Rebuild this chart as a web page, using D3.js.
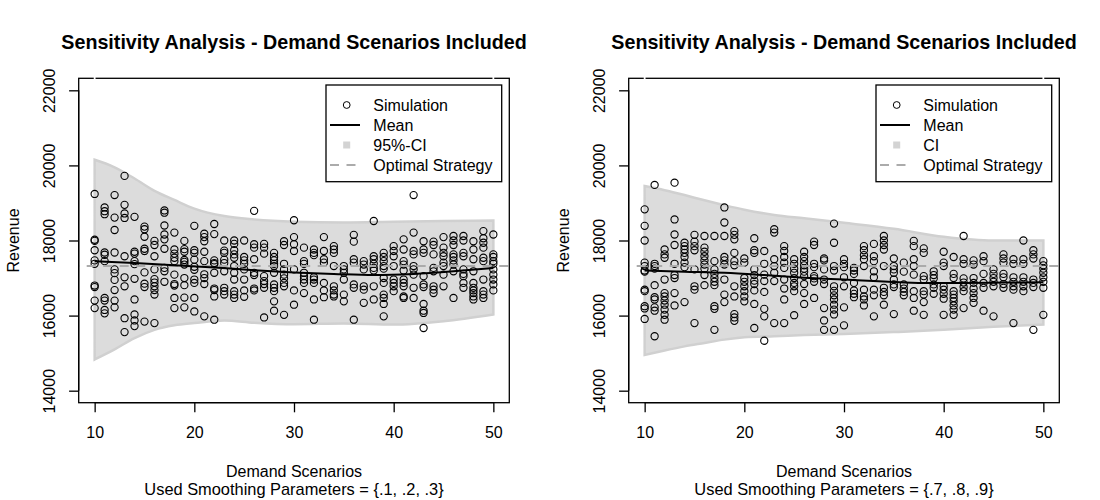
<!DOCTYPE html>
<html>
<head>
<meta charset="utf-8">
<script src="https://cdn.jsdelivr.net/npm/d3@7"></script>
<style>
    body { margin: 0; background: #fff; }
    text { font-family: "Liberation Sans", Arial, sans-serif; fill: #000; }
</style>
</head>
<body>
<div id="chart"></div>
<script>
// x values of the demand scenarios (one column of simulations each)
const scenarios = [10, 11, 12, 13, 14, 15, 16, 17, 18, 19, 20, 21, 22, 23, 24, 25, 26, 27, 28, 29,
    30, 31, 32, 33, 34, 35, 36, 37, 38, 39, 40, 41, 42, 43, 44, 45, 46, 47, 48, 49, 50];

const xTicks = [10, 20, 30, 40, 50];
const yTicks = [14000, 16000, 18000, 20000, 22000];

// simulated revenue per scenario, smoothing parameters {.1, .2, .3}
const simLeft = [
    [19240, 18020, 17990, 17740, 17470, 17380, 16800, 16760, 16400, 16200],
    [18880, 18780, 18700, 17680, 17620, 17450, 16470, 16400, 16150, 16060],
    [19210, 18610, 18280, 17680, 17230, 17130, 16950, 16680, 16400, 16220],
    [19720, 18950, 18720, 18600, 17580, 17020, 16780, 15930, 15560],
    [18630, 17700, 17650, 17450, 17370, 16980, 16430, 16030, 15870, 15720],
    [18370, 18300, 18100, 17780, 17720, 17150, 16850, 16760, 15840],
    [17990, 17880, 17580, 17230, 16970, 16880, 16780, 16680, 16560, 15800],
    [18800, 18740, 18400, 18160, 18030, 17780, 17270, 17180, 16900],
    [18210, 17760, 17650, 17540, 17450, 17090, 16840, 16800, 16470, 16200],
    [17990, 17770, 17700, 17480, 17430, 17360, 17000, 16810, 16480, 16220],
    [18390, 17740, 17670, 17490, 17300, 17220, 16960, 16870, 16470, 16110],
    [18180, 18090, 17980, 17700, 17450, 17100, 17000, 16840, 15980],
    [18440, 18170, 17470, 17400, 17370, 17140, 16720, 16680, 16510, 15890],
    [18000, 17730, 17670, 17490, 17400, 17180, 16740, 16650, 16560],
    [18000, 17910, 17740, 17630, 17540, 17320, 17140, 16960, 16650, 16560, 16470],
    [18000, 17560, 17470, 17380, 17230, 16960, 16670, 16500],
    [18790, 17900, 17810, 17500, 17140, 17080, 16720, 16670],
    [17910, 17810, 17650, 17050, 16920, 16840, 16740, 15950],
    [17670, 17560, 17470, 17380, 17320, 17140, 16830, 16740, 16650, 16380, 16130],
    [17980, 17880, 17380, 17230, 17090, 16990, 16870, 16780, 16020],
    [18540, 18090, 17900, 17720, 17230, 16670, 16290],
    [17810, 17450, 17380, 17140, 17050, 16960, 16870, 16600],
    [17760, 17670, 17610, 17020, 16960, 16870, 16430, 15890],
    [18090, 17720, 17500, 17410, 16870, 16670, 16490],
    [17850, 17760, 17670, 17320, 16780, 16670, 16560, 16510],
    [17320, 17230, 17140, 16960, 16560, 16380],
    [18150, 17970, 17500, 17410, 16830, 16740, 15890],
    [17450, 17360, 17230, 16780, 16690, 16340],
    [18520, 17580, 17500, 17380, 17270, 17200, 16780, 16430],
    [17670, 17560, 17450, 17320, 17250, 17000, 16870, 16560, 16470, 16310, 15980],
    [17850, 17720, 17580, 17320, 16960, 16870, 16780, 16650],
    [18030, 17760, 17450, 17360, 17200, 16960, 16870, 16780, 16510, 16470],
    [19210, 18210, 17720, 17630, 17320, 17230, 17090, 16740, 16470],
    [17980, 17760, 17670, 17050, 16830, 16760, 16310, 16130, 16070, 15670],
    [17970, 17880, 17630, 17270, 17180, 16780, 16690, 16600],
    [18090, 17810, 17670, 17580, 17410, 17320, 17090, 16780],
    [18120, 18000, 17880, 17630, 17560, 17470, 17360, 17180, 16470],
    [18120, 18000, 17670, 17580, 17230, 17110, 17050, 16870, 16740],
    [17980, 17760, 17500, 17180, 16870, 16740, 16670, 16600, 16510, 16430],
    [18250, 18060, 17940, 17810, 17540, 17450, 16960, 16650, 16560, 16470],
    [18160, 17630, 17560, 17450, 17380, 17230, 17090, 16960, 16830, 16670]
];

// simulated revenue per scenario, smoothing parameters {.7, .8, .9}
const simRight = [
    [18830, 18390, 18000, 17410, 17320, 17200, 17170, 16690, 16650, 16250, 16190, 15910],
    [19480, 17380, 17320, 17250, 16810, 16490, 16430, 16220, 16130, 15450],
    [17760, 17630, 17540, 16960, 16600, 16510, 16400, 16290, 16160, 16020, 15890],
    [19540, 18560, 18160, 17880, 17380, 17080, 17000, 16600, 16270],
    [17940, 17850, 17760, 17670, 17560, 17410, 17290, 16360],
    [18150, 17970, 17850, 17740, 17230, 16780, 16690, 15800],
    [18120, 17810, 17700, 17580, 17470, 17360, 17250, 17080, 16810],
    [18120, 17450, 17230, 17110, 17000, 16900, 16810, 16250, 16180, 15620],
    [18880, 18480, 18120, 17560, 17470, 17360, 16960, 16560, 16360],
    [18250, 18150, 18030, 17670, 17450, 17340, 16780, 16510, 16040, 15950, 15860],
    [17520, 17410, 17000, 16900, 16780, 16650, 16510, 16380],
    [18060, 17740, 17670, 17230, 17080, 16930, 16840, 16670, 16310, 15670],
    [17720, 17380, 17090, 16920, 16630, 16180, 15980, 15330],
    [18300, 18210, 17500, 17320, 17140, 16920, 15800],
    [17850, 17720, 17560, 17410, 17270, 16960, 16720, 16430, 15800],
    [17500, 17380, 17250, 17140, 17000, 16870, 16780, 16650, 16010],
    [17700, 17560, 17450, 17340, 17250, 17170, 17050, 16840, 16600, 16310],
    [17970, 17880, 17380, 17290, 17050, 16990, 16900, 16470],
    [17520, 17470, 17230, 16960, 16840, 16200, 15870, 15620],
    [18450, 17940, 17320, 17200, 16780, 16660, 16540, 16430, 16290, 16160, 16030, 15620],
    [17500, 17380, 17290, 17020, 16780, 16220, 15740],
    [17270, 17200, 17110, 16870, 16670, 16580, 16490],
    [17850, 17740, 17610, 17500, 17320, 16690, 16510, 16430, 16270],
    [17910, 17580, 17450, 17180, 17020, 16690, 16540, 15980],
    [18120, 18000, 17880, 17760, 17320, 16740, 16630, 16540, 16290],
    [17520, 17320, 17230, 17140, 16960, 16830, 16760, 16040],
    [17410, 17170, 16830, 16720, 16630, 16540],
    [17990, 17850, 17500, 17320, 17090, 16650, 16470, 16130],
    [17790, 17670, 17050, 16960, 16650, 16560, 16360, 16020],
    [17180, 17080, 16990, 16830, 16740, 16580],
    [17700, 17410, 17320, 16780, 16690, 16580, 16450, 16020],
    [17560, 17110, 17000, 16650, 16560, 16470, 16380, 16270, 16160, 16020],
    [18120, 17500, 17380, 16990, 16880, 16760, 16650, 16200],
    [17470, 17360, 17000, 16870, 16720, 16600, 16470, 16340],
    [17580, 17450, 17110, 16870, 16740, 16130],
    [17230, 17110, 17000, 16900, 16780, 15980],
    [17630, 17520, 17410, 17110, 17020, 16840, 16740],
    [17500, 17380, 17020, 16900, 16780, 16690, 15800],
    [18000, 17500, 17380, 17020, 16900, 16780, 16650],
    [17740, 17630, 17520, 16960, 16870, 16760, 15620],
    [17450, 17340, 17250, 17140, 17020, 16900, 16740, 16020]
];

// mean curve, read at these scenarios
const meanX = [10, 14, 18, 22, 26, 30, 34, 38, 42, 46, 50];
const meanLeft = [17450, 17400, 17340, 17280, 17210, 17150, 17110, 17080, 17110, 17180, 17270];
const meanRight = [17200, 17170, 17140, 17080, 17010, 16960, 16910, 16870, 16870, 16880, 16890];

// confidence band, read at these scenarios
const bandX = [10, 12, 14, 16, 18, 20, 23, 26, 30, 35, 40, 45, 50];
const upperLeft = [20150, 19950, 19650, 19320, 19080, 18850, 18650, 18560, 18500, 18480, 18500, 18520, 18530];
const lowerLeft = [14830, 15100, 15400, 15620, 15740, 15800, 15870, 15810, 15770, 15790, 15760, 15850, 16030];
const upperRight = [19450, 19340, 19210, 19070, 18940, 18820, 18680, 18590, 18470, 18310, 18100, 18000, 18000];
const lowerRight = [14950, 15070, 15180, 15270, 15360, 15420, 15450, 15480, 15510, 15560, 15620, 15700, 15760];

// revenue of the optimal strategy
const optimalLeft = 17320;
const optimalRight = 17320;

const panels = [
    { sims: simLeft, mean: meanLeft, upper: upperLeft, lower: lowerLeft, optimal: optimalLeft,
      ciLabel: "95%-CI", sub: "Used Smoothing Parameters = {.1, .2, .3}" },
    { sims: simRight, mean: meanRight, upper: upperRight, lower: lowerRight, optimal: optimalRight,
      ciLabel: "CI", sub: "Used Smoothing Parameters = {.7, .8, .9}" }
];

const svg = d3.select("#chart").append("svg")
    .attr("width", 1100)
    .attr("height", 500)
    .style("display", "block");

svg.append("rect").attr("width", 1100).attr("height", 500).attr("fill", "#fff");

const box = { left: 78.7, width: 430.6, top: 78.3, bottom: 402.7 };
const bandFill = "#dcdcdc";
const dashGray = "#ababab";
const fontSize = "16px";

panels.forEach((p, i) => {
    const x0 = box.left + i * 550;

    // R style axis ranges (4% padding)
    let x = d3.scaleLinear().domain([8.4, 51.6]).range([x0, x0 + box.width]);
    let y = d3.scaleLinear().domain([13680, 22320]).range([box.bottom, box.top]);

    let g = svg.append("g");

    // confidence band
    let area = d3.area()
        .x((d, j) => x(bandX[j]))
        .y0((d, j) => y(p.lower[j]))
        .y1((d, j) => y(p.upper[j]))
        .curve(d3.curveMonotoneX);
    g.append("path")
        .datum(p.upper)
        .attr("d", area)
        .attr("fill", bandFill)
        .attr("stroke", "#d0d0d0")
        .attr("stroke-width", 2.5);

    // simulation points
    let pts = [];
    scenarios.forEach((s, j) => p.sims[j].forEach(v => pts.push({ s: s, v: v })));
    g.selectAll("circle.sim")
        .data(pts)
        .enter().append("circle")
        .attr("class", "sim")
        .attr("cx", d => x(d.s))
        .attr("cy", d => y(d.v))
        .attr("r", 3.6)
        .attr("fill", "none")
        .attr("stroke", "#000")
        .attr("stroke-width", 1.1);

    // optimal strategy
    g.append("line")
        .attr("x1", x0).attr("x2", x0 + box.width)
        .attr("y1", y(p.optimal)).attr("y2", y(p.optimal))
        .attr("stroke", dashGray)
        .attr("stroke-width", 2)
        .attr("stroke-dasharray", "9,7.5")
        .attr("stroke-dashoffset", -8);

    // mean curve
    let line = d3.line()
        .x((d, j) => x(meanX[j]))
        .y(d => y(d))
        .curve(d3.curveMonotoneX);
    g.append("path")
        .datum(p.mean)
        .attr("d", line)
        .attr("fill", "none")
        .attr("stroke", "#000")
        .attr("stroke-width", 2);

    // plot frame
    g.append("rect")
        .attr("x", x0).attr("y", box.top)
        .attr("width", box.width).attr("height", box.bottom - box.top)
        .attr("fill", "none")
        .attr("stroke", "#000")
        .attr("stroke-width", 1.3);

    // little white nicks in the top border at the first and last scenario
    [10, 50].forEach(s => {
        g.append("line")
            .attr("x1", x(s)).attr("x2", x(s))
            .attr("y1", box.top - 1.5).attr("y2", box.top + 1.5)
            .attr("stroke", "#fff").attr("stroke-width", 1.8);
    });

    // axes
    let xAxis = d3.axisBottom(x).tickValues(xTicks).tickSize(9.6).tickSizeOuter(0);
    let xg = g.append("g")
        .attr("transform", `translate(0,${box.bottom})`)
        .call(xAxis);
    xg.select(".domain").attr("d", `M${x(10)},0H${x(50)}`).attr("stroke-width", 1.3);
    xg.selectAll(".tick line").attr("stroke-width", 1.3);
    xg.selectAll(".tick text")
        .attr("y", 35).attr("dy", null)
        .style("font-size", fontSize)
        .style("font-family", '"Liberation Sans", Arial, sans-serif');

    let yAxis = d3.axisLeft(y).tickValues(yTicks).tickSize(9.6).tickSizeOuter(0).tickFormat(d3.format("d"));
    let yg = g.append("g")
        .attr("transform", `translate(${x0},0)`)
        .call(yAxis);
    yg.select(".domain").attr("d", `M0,${y(14000)}V${y(22000)}`).attr("stroke-width", 1.3);
    yg.selectAll(".tick line").attr("stroke-width", 1.3);
    yg.selectAll(".tick text")
        .attr("x", null).attr("dy", null)
        .attr("text-anchor", "middle")
        .attr("transform", "translate(-23.5,0) rotate(-90)")
        .style("font-size", fontSize)
        .style("font-family", '"Liberation Sans", Arial, sans-serif');

    // titles
    let cx = x0 + box.width / 2;
    g.append("text")
        .attr("x", cx).attr("y", 48.5)
        .attr("text-anchor", "middle")
        .style("font-size", "19.7px")
        .style("font-weight", "bold")
        .text("Sensitivity Analysis - Demand Scenarios Included");

    g.append("text")
        .attr("x", cx).attr("y", 476.5)
        .attr("text-anchor", "middle")
        .style("font-size", fontSize)
        .text("Demand Scenarios");

    g.append("text")
        .attr("x", cx).attr("y", 494.5)
        .attr("text-anchor", "middle")
        .style("font-size", "16.4px")
        .text(p.sub);

    g.append("text")
        .attr("transform", `translate(${x0 - 60},${(box.top + box.bottom) / 2}) rotate(-90)`)
        .attr("text-anchor", "middle")
        .style("font-size", fontSize)
        .text("Revenue");

    // legend
    let lg = g.append("g").attr("transform", `translate(${326 + i * 550},85)`);
    lg.append("rect")
        .attr("width", 175.7).attr("height", 96.7)
        .attr("fill", "#fff")
        .attr("stroke", "#000")
        .attr("stroke-width", 1.3);

    let items = ["Simulation", "Mean", p.ciLabel, "Optimal Strategy"];
    lg.selectAll("text.legend-text")
        .data(items)
        .enter().append("text")
        .attr("class", "legend-text")
        .attr("x", 47.3)
        .attr("y", (d, j) => 25.7 + j * 20)
        .style("font-size", fontSize)
        .text(d => d);

    lg.append("circle")
        .attr("cx", 20.7).attr("cy", 20)
        .attr("r", 3.4)
        .attr("fill", "none").attr("stroke", "#000");
    lg.append("line")
        .attr("x1", 4).attr("x2", 34).attr("y1", 40).attr("y2", 40)
        .attr("stroke", "#000").attr("stroke-width", 2);
    lg.append("rect")
        .attr("x", 17.2).attr("y", 56.5)
        .attr("width", 7).attr("height", 7)
        .attr("fill", "#d3d3d3");
    lg.append("line")
        .attr("x1", 4).attr("x2", 34).attr("y1", 80).attr("y2", 80)
        .attr("stroke", dashGray).attr("stroke-width", 2)
        .attr("stroke-dasharray", "9,7.5");
});
</script>
</body>
</html>
